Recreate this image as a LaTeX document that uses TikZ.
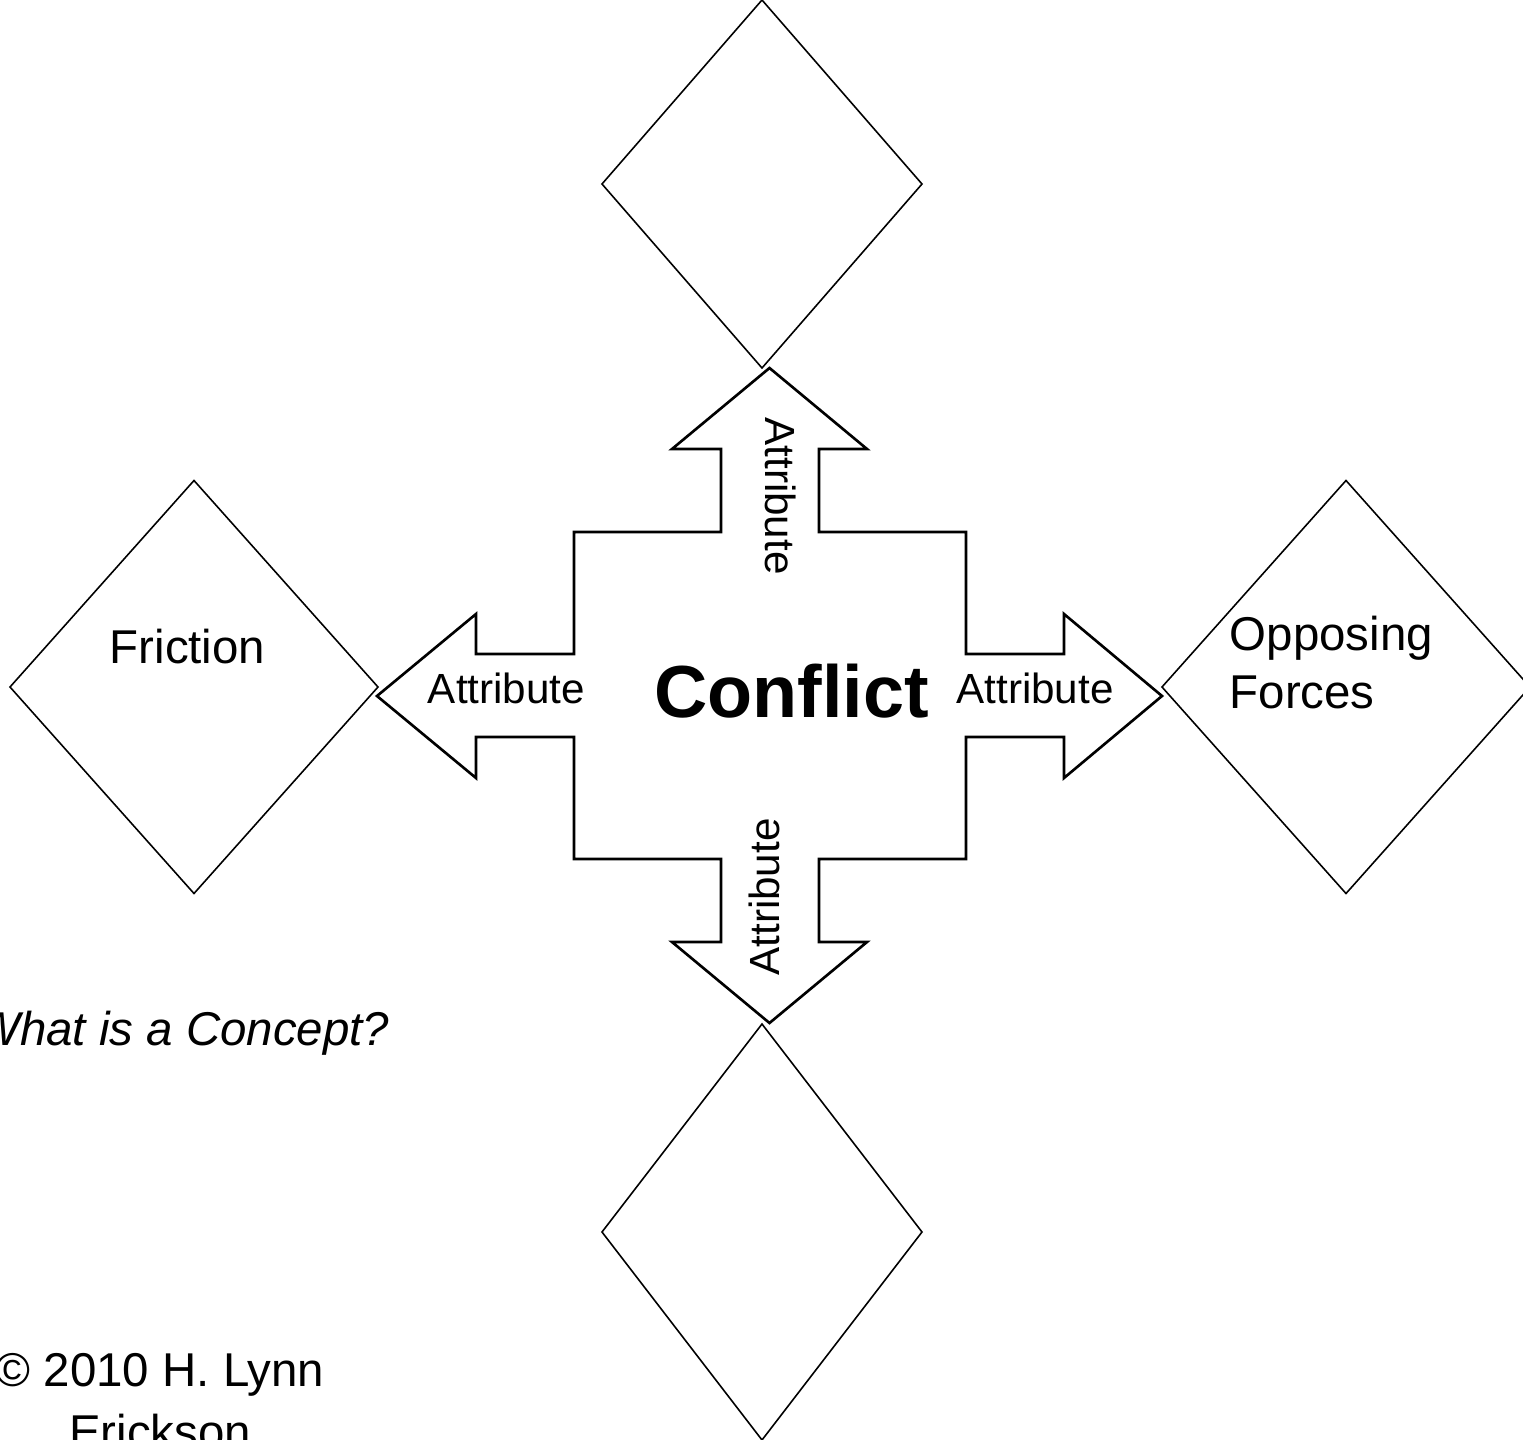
\documentclass[tikz,border=0pt]{standalone}
\usepackage{fontspec}
\setmainfont{Liberation Sans}
\usepackage{tikz}
\usetikzlibrary{shapes.geometric}

\begin{document}
\begin{tikzpicture}[
        rhomb/.style = {diamond, black, draw, line width = 0.45pt, inner sep = 0pt, outer sep = 0pt},
        lbl/.style = {inner sep = 0pt, font = \fontsize{13.5}{16.5}\selectfont},
        attr/.style = {inner sep = 0pt, font = \fontsize{12}{14}\selectfont}
    ]
        \useasboundingbox (0, 0) rectangle (15.23, -14.40);

        % the four diamonds
        \draw (7.62, -1.84) node(top)[rhomb, minimum width = 3.20cm, minimum height = 3.68cm]{};
        \draw (1.94, -6.87) node(friction)[rhomb, minimum width = 3.68cm, minimum height = 4.13cm]{};
        \draw (13.46, -6.87) node(forces)[rhomb, minimum width = 3.68cm, minimum height = 4.13cm]{};
        \draw (7.62, -12.32) node(bottom)[rhomb, minimum width = 3.20cm, minimum height = 4.16cm]{};

        % the cross with four arrows
        \draw[line width = 0.75pt] (5.74, -5.32) -- (7.21, -5.32) -- (7.21, -4.49) -- (6.72, -4.49) -- (7.695, -3.68)
            -- (8.67, -4.49) -- (8.19, -4.49) -- (8.19, -5.32) -- (9.66, -5.32) -- (9.66, -6.54) -- (10.64, -6.54)
            -- (10.64, -6.14) -- (11.62, -6.96) -- (10.64, -7.78) -- (10.64, -7.37) -- (9.66, -7.37) -- (9.66, -8.59)
            -- (8.19, -8.59) -- (8.19, -9.42) -- (8.67, -9.42) -- (7.695, -10.23) -- (6.72, -9.42) -- (7.21, -9.42)
            -- (7.21, -8.59) -- (5.74, -8.59) -- (5.74, -7.37) -- (4.76, -7.37) -- (4.76, -7.78) -- (3.77, -6.96)
            -- (4.76, -6.14) -- (4.76, -6.54) -- (5.74, -6.54) -- cycle;

        % texts
        \draw (7.915, -6.91) node(conflict)[inner sep = 0pt, font = \fontsize{21}{25}\selectfont\bfseries]{Conflict};
        \draw (5.065, -6.88) node(attrleft)[attr]{Attribute};
        \draw (10.35, -6.88) node(attrright)[attr]{Attribute};
        \draw (7.805, -4.96) node(attrtop)[attr, rotate = -90]{Attribute};
        \draw (7.64, -8.97) node(attrbottom)[attr, rotate = 90]{Attribute};

        \draw (1.875, -6.47) node(frictiontext)[lbl]{Friction};
        \draw (12.29, -6.15) node(forcestext)[lbl, anchor = north west, align = left]{Opposing\\Forces};

        \draw (3.90, -10.45) node(question)[lbl, anchor = base east]{\itshape What is a Concept?};
        \draw (1.60, -13.53) node(copyright)[inner sep = 0pt, anchor = north, align = center, font = \fontsize{13.5}{17.6}\selectfont]{© 2010 H. Lynn\\Erickson};
    \end{tikzpicture}
\end{document}
